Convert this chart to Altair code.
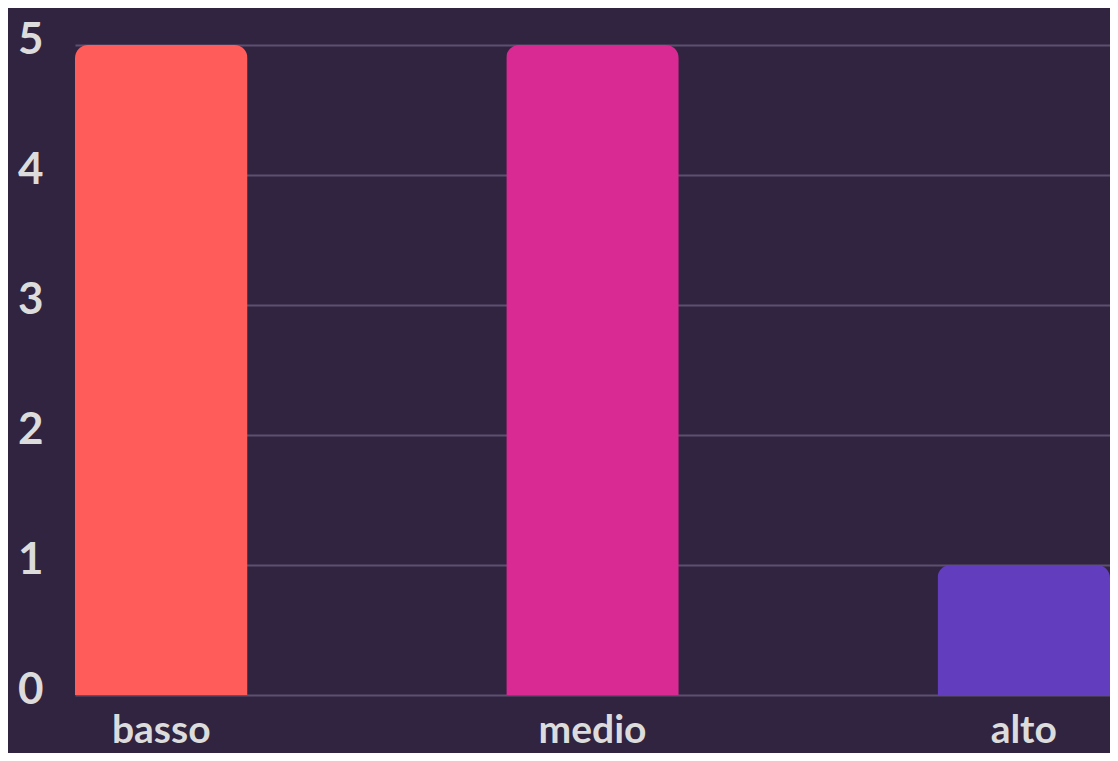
import altair as alt
import pandas as pd

categories = ["basso", "medio", "alto"]
values = [5, 5, 1]
colors = ["#FF5C5A", "#D82A92", "#623EBE"]

df = pd.DataFrame({"livello": categories, "valore": values})

chart = alt.Chart(df).mark_bar(
    cornerRadiusTopLeft=13, cornerRadiusTopRight=13
).encode(
    x=alt.X("livello:N", sort=categories, title=None,
            scale=alt.Scale(paddingInner=0.6, paddingOuter=0),
            axis=alt.Axis(labelAngle=0, labelFont="Lato", labelFontWeight="bold",
                          labelFontSize=39, labelColor="#DCDCDC", labelPadding=47,
                          labelBaseline="alphabetic",
                          ticks=False, domain=False, grid=False)),
    y=alt.Y("valore:Q", title=None,
            scale=alt.Scale(domain=[0, 5], nice=False),
            axis=alt.Axis(values=[0, 1, 2, 3, 4, 5], labelFont="Lato", labelFontWeight="bold",
                          labelFontSize=44, labelColor="#DCDCDC", labelPadding=32,
                          labelOffset=-5,
                          ticks=False, domain=False, grid=True,
                          gridColor="#5E4F70", gridWidth=2)),
    color=alt.Color("livello:N", sort=categories,
                    scale=alt.Scale(domain=categories, range=colors), legend=None),
).properties(
    width=1035, height=650,
    background="#312440",
    padding={"left": 67, "top": 37, "right": 0, "bottom": 58},
    autosize=alt.AutoSizeParams(type="none"),
).configure_view(stroke=None)

chart.save("out.html", embed_options={"renderer": "svg", "actions": False})
